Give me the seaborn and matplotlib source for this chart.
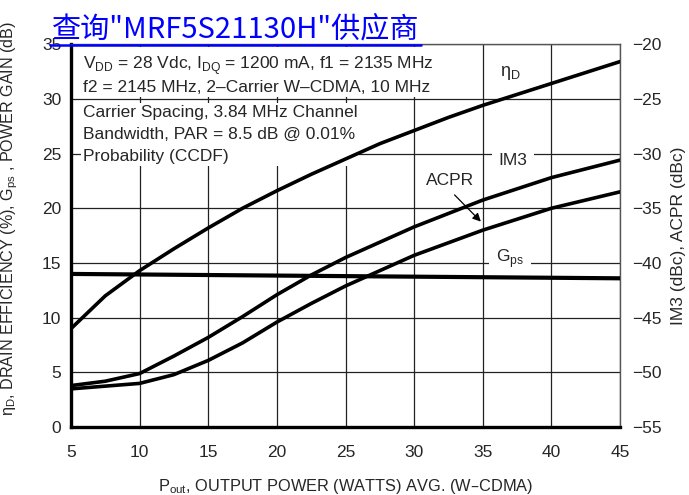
import numpy as np
import pandas as pd
import matplotlib
matplotlib.use("Agg")
import matplotlib.pyplot as plt
from matplotlib.lines import Line2D
import seaborn as sns

# values
eta_x = [5, 6, 7.5, 10, 12.5, 15, 17.5, 20, 22.5, 25, 27.5, 30, 32.5, 35, 40, 45]
eta_d = [9.0, 10.2, 12.0, 14.3, 16.3, 18.2, 20.0, 21.6, 23.1, 24.5, 25.9, 27.1, 28.3, 29.4, 31.4, 33.4]

gps_x = [5, 15, 25, 35, 45]
gps = [14.0, 13.9, 13.8, 13.7, 13.6]

dist_x = [5, 7.5, 10, 12.5, 15, 17.5, 20, 22.5, 25, 30, 35, 40, 45]
im3 = [-51.2, -50.8, -50.1, -48.5, -46.8, -44.9, -42.9, -41.1, -39.5, -36.7, -34.25, -32.2, -30.6]
acpr = [-51.5, -51.25, -51.0, -50.2, -48.9, -47.3, -45.4, -43.7, -42.1, -39.3, -37.0, -35.0, -33.5]

x_ticks = [5, 10, 15, 20, 25, 30, 35, 40, 45]
left_ticks = [0, 5, 10, 15, 20, 25, 30, 35]
right_ticks = [-55, -50, -45, -40, -35, -30, -25, -20]

sns.set_style("white")
plt.rcParams['font.family'] = ['Liberation Sans', 'DejaVu Sans']

fig = plt.figure(figsize=(6.89, 4.95), dpi=100)
ax = fig.add_axes([0.103, 0.137, 0.797, 0.774])
ax2 = ax.twinx()

eta_df = pd.DataFrame({'Pout': eta_x, 'val': eta_d})
gps_df = pd.DataFrame({'Pout': gps_x, 'val': gps})
dist_df = pd.DataFrame({'Pout': dist_x, 'IM3': im3, 'ACPR': acpr})

sns.lineplot(data=eta_df, x='Pout', y='val', ax=ax, color='black', lw=2.6, zorder=3)
sns.lineplot(data=gps_df, x='Pout', y='val', ax=ax, color='black', lw=3.0, zorder=3)
sns.lineplot(data=dist_df, x='Pout', y='IM3', ax=ax2, color='black', lw=2.6)
sns.lineplot(data=dist_df, x='Pout', y='ACPR', ax=ax2, color='black', lw=2.6)

ax.set_xlim(5, 45)
ax.set_ylim(0, 35)
ax2.set_ylim(-55, -20)
ax.set_xticks(x_ticks)
ax.set_yticks(left_ticks)
ax2.set_yticks(right_ticks)
ax.grid(True, color='#222222', lw=0.9)
ax.tick_params(axis='x', length=0, labelsize=12.5, pad=13)
ax.tick_params(axis='y', length=0, labelsize=12.5, pad=7)
ax2.tick_params(length=0, labelsize=12.5, pad=9)

for s in ['left', 'bottom']:
    ax.spines[s].set_linewidth(2.4)
    ax.spines[s].set_color('black')
for s in ['top', 'right']:
    ax.spines[s].set_linewidth(1.0)
    ax.spines[s].set_color('#555555')
for s in ax2.spines.values():
    s.set_visible(False)

ax.set_xlabel('P$_\\mathregular{out}$, OUTPUT POWER (WATTS) AVG. (W–CDMA)', fontsize=11.8, labelpad=12)
ax.set_ylabel('η$_\\mathregular{D}$, DRAIN EFFICIENCY (%), G$_\\mathregular{ps}$ , POWER GAIN (dB)',
              fontsize=11.6)
ax.yaxis.set_label_coords(-0.092, 0.545)
ax2.set_ylabel('IM3 (dBc), ACPR (dBc)', fontsize=12.5, labelpad=6)

box = dict(facecolor='white', edgecolor='none', pad=1.5)
ax.text(5.85, 34.1, 'V$_\\mathregular{DD}$ = 28 Vdc, I$_\\mathregular{DQ}$ = 1200 mA, f1 = 2135 MHz\n'
        'f2 = 2145 MHz, 2–Carrier W–CDMA, 10 MHz',
        fontsize=12.5, va='top', ha='left', linespacing=1.3, bbox=box, zorder=1.5)
ax.text(5.85, 29.4, 'Carrier Spacing, 3.84 MHz Channel\n'
        'Bandwidth, PAR = 8.5 dB @ 0.01%\nProbability (CCDF)',
        fontsize=12.5, va='top', ha='left', linespacing=1.55, bbox=box, zorder=1.5)

ax.text(37.0, 32.4, 'η$_\\mathregular{D}$', fontsize=13, ha='center', va='center', bbox=box, zorder=1.5)
ax.text(37.2, 24.4, 'IM3', fontsize=12.5, ha='center', va='center',
        bbox=dict(facecolor='white', edgecolor='none', pad=5), zorder=1.5)
ax.text(37.0, 15.4, 'G$_\\mathregular{ps}$', fontsize=12.5, ha='center', va='center',
        bbox=dict(facecolor='white', edgecolor='none', pad=5), zorder=1.5)
ax.text(32.6, 22.5, 'ACPR', fontsize=12.5, ha='center', va='center')
ax.annotate('', xy=(35.0, 18.6), xytext=(32.8, 21.4),
            arrowprops=dict(arrowstyle='-|>', color='black', lw=0.9, mutation_scale=12))

title = fig.text(0.075, 1 - 37.5 / 495, '查询"MRF5S21130H"供应商', color='blue', fontsize=21,
                 family=['Noto Sans CJK SC', 'DejaVu Sans'], va='baseline')
fig.canvas.draw()
bb = title.get_window_extent(fig.canvas.get_renderer()).transformed(fig.transFigure.inverted())
uy = 1 - 44.5 / 495
fig.add_artist(Line2D([bb.x0 - 0.003, bb.x1 + 0.003], [uy, uy], color='blue', lw=1.8,
                      transform=fig.transFigure))

fig.savefig('out.png', dpi=100)
